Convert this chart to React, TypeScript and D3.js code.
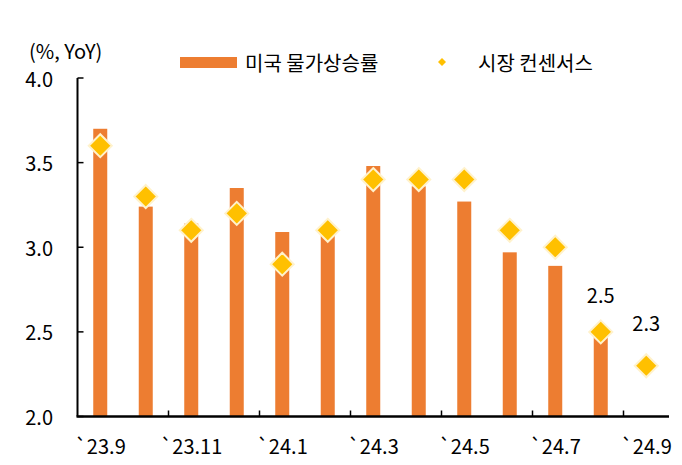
import React from "react";
import * as d3 from "d3";

const categories = ["`23.9", "`23.10", "`23.11", "`23.12", "`24.1", "`24.2", "`24.3", "`24.4", "`24.5", "`24.6", "`24.7", "`24.8", "`24.9"];
const cpiValues: (number | null)[] = [3.7, 3.24, 3.14, 3.35, 3.09, 3.1, 3.48, 3.36, 3.27, 2.97, 2.89, 2.53, null];
const consensusValues = [3.6, 3.3, 3.1, 3.2, 2.9, 3.1, 3.4, 3.4, 3.4, 3.1, 3.0, 2.5, 2.3];
const yTicks = [2.0, 2.5, 3.0, 3.5, 4.0];
const labeledIdx = [11, 12];
const seriesNames = ["미국 물가상승률", "시장 컨센서스"];

const W = 682, H = 465;
const FONT = "'Noto Sans CJK KR', 'Noto Sans', sans-serif";
const BAR = "#ED7D31";
const DIA = "#FFC000";

export default function App() {
  const left = 77.5, right = 669, top = 78, bottom = 416.5;
  const x = d3.scaleBand<string>().domain(categories).range([left, right]).paddingInner(0).paddingOuter(0);
  const y = d3.scaleLinear().domain([2, 4]).range([bottom, top]);
  const bw = 14;
  const ds = 11.5;
  const fs = 20;
  const diamond = (cx: number, cy: number, s: number) => `M${cx},${cy - s}L${cx + s},${cy}L${cx},${cy + s}L${cx - s},${cy}Z`;

  return (
    <svg width={W} height={H} style={{ position: "absolute", left: 0, top: 0, fontFamily: FONT }}>
      <rect width={W} height={H} fill="#fff" />
      {categories.map((c, i) => {
        const v = cpiValues[i];
        if (v == null) return null;
        const cx = x(c)! + x.bandwidth() / 2;
        return <rect key={c} x={cx - bw / 2} y={y(v)} width={bw} height={bottom - y(v)} fill={BAR} />;
      })}
      {categories.map((c, i) => {
        const cx = x(c)! + x.bandwidth() / 2;
        return <path key={c} d={diamond(cx, y(consensusValues[i]), ds)} fill={DIA} stroke="#FFF2CC" strokeWidth={2} />;
      })}
      {labeledIdx.map((i) => {
        const cx = x(categories[i])! + x.bandwidth() / 2;
        const offs = i === 11 ? 37 : 43;
        return (
          <text key={i} x={cx} y={y(consensusValues[i]) - offs} textAnchor="middle" dominantBaseline="central" fontSize={fs} fill="#000">
            {consensusValues[i].toFixed(1)}
          </text>
        );
      })}
      <line x1={left} x2={left} y1={top} y2={bottom} stroke="#000" strokeWidth={2} />
      {yTicks.map((t) => (
        <g key={t}>
          <line x1={left} x2={left + 6} y1={y(t)} y2={y(t)} stroke="#000" strokeWidth={1.5} />
          <text x={53} y={y(t)} textAnchor="end" dominantBaseline="central" fontSize={fs} fill="#000">
            {t.toFixed(1)}
          </text>
        </g>
      ))}
      <line x1={left - 1} x2={right} y1={bottom} y2={bottom} stroke="#000" strokeWidth={2.5} />
      {categories.map((c, i) =>
        i % 2 === 0 ? (
          <g key={c}>
            {i > 0 && <line x1={x(c)!} x2={x(c)!} y1={bottom} y2={bottom - 6} stroke="#000" strokeWidth={1.5} />}
            <text x={x(c)! + x.bandwidth() / 2} y={445} textAnchor="middle" dominantBaseline="central" fontSize={fs} fill="#000">
              {c}
            </text>
          </g>
        ) : null
      )}
      <text x={29} y={50} dominantBaseline="central" fontSize={fs} fill="#000">(%, YoY)</text>
      <rect x={180} y={57} width={57} height={11} fill={BAR} />
      <text x={245} y={62} dominantBaseline="central" fontSize={fs} fill="#000">{seriesNames[0]}</text>
      <path d={diamond(442, 62, 4)} fill={DIA} />
      <text x={478} y={62} dominantBaseline="central" fontSize={fs} fill="#000">{seriesNames[1]}</text>
    </svg>
  );
}
